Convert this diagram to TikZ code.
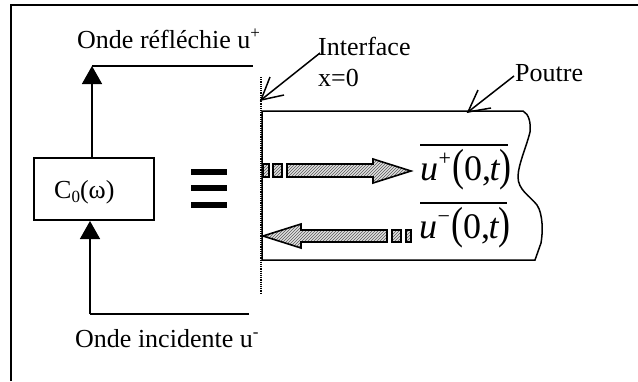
\documentclass[tikz,border=0pt]{standalone}
\usepackage{fontspec}
\usepackage{graphicx}
\setmainfont{Liberation Serif}
\usetikzlibrary{patterns,arrows.meta}
\tikzset{
  x=1pt,y=-1pt,
  line/.style={draw=black,line width=1.5pt},
  lab/.style={inner sep=0pt,font=\fontsize{26}{28}\selectfont,anchor=base west,text=black},
  hatch/.style={draw=black,line width=1.6pt,pattern=north east lines,pattern color=black!65,preaction={fill=black!12}},
  tip/.style={-{Triangle[length=18pt,width=20pt]}},
  formula/.style={inner sep=0pt,anchor=base west,font=\fontsize{36}{38}\selectfont}
}
\newcommand{\upow}[1]{\textit{u}\kern0.5pt\raisebox{15pt}{\fontsize{22}{22}\selectfont #1}\kern1.5pt\scalebox{1}[1.25]{(}\kern-0.5pt 0,\kern-1.5pt\textit{t}\kern-1pt\scalebox{1}[1.25]{)}}
\newcommand{\suptxt}[1]{\raisebox{10pt}{\fontsize{17}{17}\selectfont #1}}
\begin{document}
\begin{tikzpicture}
\useasboundingbox (0,0) rectangle (638,381);
\draw[line width=1.9pt] (11,381) -- (11,5) -- (638,5);
\node[lab] (refl) at (77,48) {Onde réfléchie u\suptxt{+}};
\node[lab] (inc) at (75,347) {Onde incidente u\suptxt{-}};
\node[lab] (intf) at (318,55) {Interface};
\node[lab] (xz) at (318,86) {x=0};
\node[lab] (pou) at (515,81) {Poutre};
\node[draw=black,line width=1.5pt,minimum width=120pt,minimum height=62pt,inner sep=0pt] (box) at (94,189) {};
\node[lab] (clab) at (54,198) {C\raisebox{-4pt}{\fontsize{17}{17}\selectfont 0}(ω)};
\coordinate (a1) at (92,158);
\coordinate (a2) at (92,66);
\coordinate (a3) at (253,66);
\coordinate (b1) at (249,314);
\coordinate (b2) at (90,314);
\coordinate (b3) at (90,221);
\draw[line,tip] (a1) -- (a2);
\draw[line] (a2) -- (a3);
\draw[line] (b1) -- (b2);
\draw[line,tip] (b2) -- (b3);
\fill (191,169) rectangle (227,175);
\fill (191,185) rectangle (227,191);
\fill (191,202) rectangle (227,208);
\coordinate (i1) at (261,77);
\coordinate (i2) at (261,293);
\draw[line width=1.2pt,densely dotted] (i1) -- (i2);
\draw[line] (262,111) -- (523,111)
  .. controls (529,114) and (531,123) .. (530,132)
  .. controls (527,145) and (518,165) .. (518,177)
  .. controls (518,190) and (530,196) .. (537,205)
  .. controls (543,214) and (543,232) .. (541,243)
  -- (535,260) -- (262,260) -- cycle;
% pointers
\coordinate (t1) at (320,53);
\coordinate (t2) at (261,100);
\coordinate (t2a) at (270,77);
\coordinate (t2b) at (284,95);
\coordinate (t3) at (514,76);
\coordinate (t4) at (468,112);
\coordinate (t4a) at (478,90);
\coordinate (t4b) at (491,108);
\draw[line] (t1) -- (t2);
\draw[line] (t2a) -- (t2) -- (t2b);
\draw[line] (t3) -- (t4);
\draw[line] (t4a) -- (t4) -- (t4b);
% hatched arrows
\draw[hatch] (263,164) rectangle (269,177);
\draw[hatch] (273,164) rectangle (282,177);
\draw[hatch] (287,164) -- (373,164) -- (373,159) -- (411,171) -- (373,183) -- (373,177) -- (287,177) -- cycle;
\draw[hatch] (411,230) rectangle (406,242);
\draw[hatch] (401,230) rectangle (392,242);
\draw[hatch] (387,230) -- (301,230) -- (301,224) -- (263,236) -- (301,248) -- (301,242) -- (387,242) -- cycle;
% formulas
\node[formula] (up) at (420,180) {\upow{+}};
\node[formula] (um) at (419,238) {\upow{−}};
\coordinate (o1) at (420,145);
\coordinate (o2) at (508,145);
\coordinate (o3) at (420,203);
\coordinate (o4) at (507,203);
\draw[line width=1.1pt] (o1) -- (o2);
\draw[line width=1.1pt] (o3) -- (o4);
\end{tikzpicture}
\end{document}
